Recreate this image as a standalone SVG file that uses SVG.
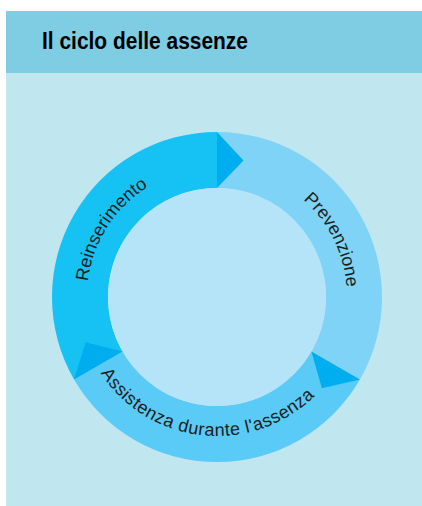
<svg xmlns="http://www.w3.org/2000/svg" width="422" height="506" viewBox="0 0 422 506">
  <style>
    .lbl { font-family: "Liberation Sans", Arial, sans-serif; font-size: 18px; fill: #1d1d1b; }
    .title { font-family: "Liberation Sans", Arial, sans-serif; font-size: 23px; font-weight: bold; fill: #000; }
    .arrow { fill: #00AEEF; }
  </style>
  <defs>
    <path id="pLeft" d="M104.4,362 A130,130 0 0 1 217,167" fill="none"/>
    <path id="pRight" d="M217,167 A130,130 0 0 1 329.6,362" fill="none"/>
    <path id="pBottom" d="M96.6,366.5 A139,139 0 0 0 337.4,366.5" fill="none"/>
  </defs>
  <rect x="0" y="0" width="422" height="506" fill="#ffffff"/>
  <rect x="6" y="11" width="416" height="495" fill="#C0E6F0"/>
  <rect x="6" y="11" width="416" height="62" fill="#7ECDE2"/>
  <text class="title" x="42" y="49" textLength="206" lengthAdjust="spacingAndGlyphs">Il ciclo delle assenze</text>

  <g id="reinserimento">
    <path d="M74.1,379.5 A165,165 0 0 1 217,132 L217,188 A109,109 0 0 0 122.6,351.5 Z" fill="#16C1F3"/>
  </g>
  <g id="prevenzione">
    <path d="M217,132 A165,165 0 0 1 359.9,379.5 L311.4,351.5 A109,109 0 0 0 217,188 Z" fill="#7FD3F6"/>
  </g>
  <g id="assistenza">
    <path d="M359.9,379.5 A165,165 0 0 1 74.1,379.5 L122.6,351.5 A109,109 0 0 0 311.4,351.5 Z" fill="#5ACBF6"/>
  </g>
  <circle cx="217" cy="297" r="109" fill="#B5E3F7"/>

  <g id="connectors">
    <polygon class="arrow" points="217,132 243.5,160.6 217,188"/>
    <polygon class="arrow" points="359.9,379.5 321.9,388.2 311.4,351.5"/>
    <polygon class="arrow" points="74.1,379.5 85.6,342.3 122.6,351.5"/>
  </g>

  <g id="labels">
    <text class="lbl"><textPath href="#pLeft" startOffset="52%" text-anchor="middle">Reinserimento</textPath></text>
    <text class="lbl"><textPath href="#pRight" startOffset="53%" text-anchor="middle">Prevenzione</textPath></text>
    <text class="lbl" letter-spacing="0.5"><textPath href="#pBottom" startOffset="45%" text-anchor="middle">Assistenza durante l'assenza</textPath></text>
  </g>
</svg>
